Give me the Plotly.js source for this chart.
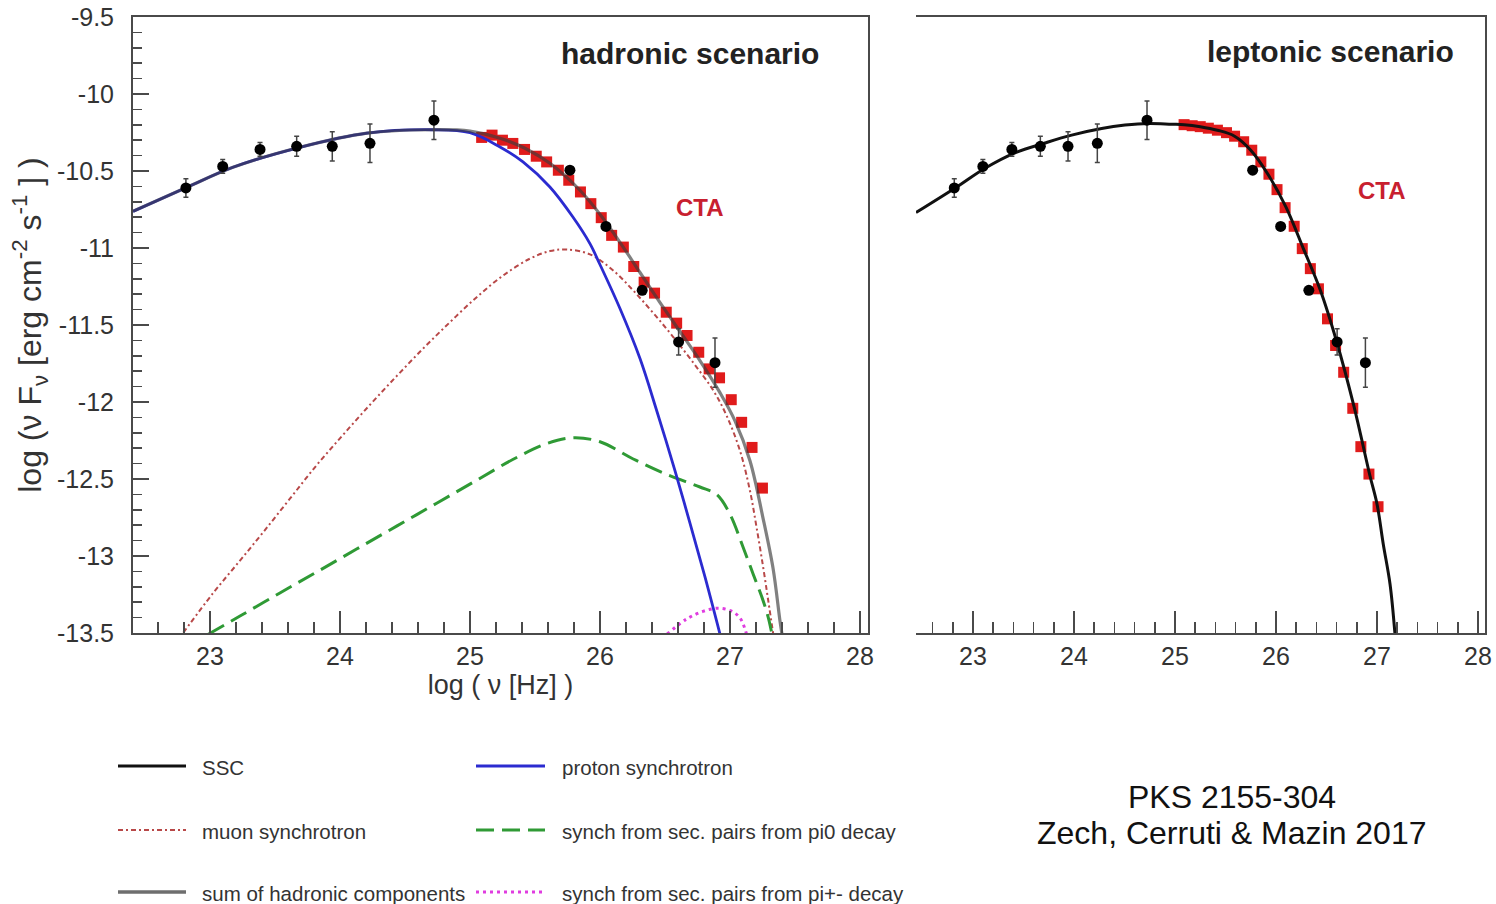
<!DOCTYPE html>
<html>
<head>
<meta charset="utf-8">
<script src="https://cdn.plot.ly/plotly-3.0.1.min.js"></script>
<style>html,body{margin:0;padding:0;background:#fff;}#chart{width:1496px;height:904px;}</style>
</head>
<body>
<div id="chart"></div>
<script>
// ---------------- data ----------------
// observed SED points (log nu [Hz], log nuFnu, error)
const obsLogNu   = [22.815, 23.098, 23.385, 23.667, 23.941, 24.231, 24.723, 25.769, 26.046, 26.325, 26.605, 26.885];
const obsLogFlux = [-10.610, -10.470, -10.360, -10.340, -10.340, -10.320, -10.170, -10.495, -10.860, -11.275, -11.610, -11.745];
const obsErr     = [0.060, 0.045, 0.045, 0.065, 0.095, 0.125, 0.125, 0.020, 0.020, 0.020, 0.085, 0.160];

// simulated CTA points
const ctaLogNu = [25.09, 25.17, 25.25, 25.33, 25.42, 25.51, 25.59, 25.68, 25.76, 25.85, 25.93, 26.01, 26.09, 26.18,
                  26.26, 26.34, 26.42, 26.51, 26.59, 26.67, 26.76, 26.84, 26.92, 27.01, 27.09, 27.17, 27.25];
const ctaHadronic = [-10.282, -10.267, -10.300, -10.321, -10.360, -10.404, -10.441, -10.495, -10.560, -10.636, -10.712,
                     -10.803, -10.918, -10.994, -11.120, -11.222, -11.293, -11.417, -11.488, -11.568, -11.677, -11.785,
                     -11.843, -11.985, -12.132, -12.295, -12.559];
const ctaLeptonic = [-10.199, -10.206, -10.212, -10.222, -10.235, -10.251, -10.274, -10.310, -10.365, -10.441, -10.521,
                     -10.621, -10.738, -10.859, -11.004, -11.134, -11.265, -11.460, -11.633, -11.807, -12.041, -12.290,
                     -12.468, -12.680];

// hadronic model components
const protonX = [22.408, 22.823, 23.177, 23.692, 24.208, 24.715, 25.000, 25.231, 25.408, 25.615, 25.792, 25.923, 26.000,
                 26.154, 26.308, 26.438, 26.577, 26.692, 26.808, 26.923];
const protonY = [-10.762, -10.606, -10.476, -10.346, -10.254, -10.232, -10.251, -10.344, -10.441, -10.604, -10.799, -10.972,
                 -11.107, -11.393, -11.718, -12.060, -12.446, -12.785, -13.136, -13.506];
const sumHadX = [22.408, 22.823, 23.177, 23.692, 24.208, 24.715, 25.000, 25.231, 25.423, 25.615, 25.846, 26.000, 26.154,
                 26.308, 26.462, 26.615, 26.769, 26.923, 27.038, 27.154, 27.254, 27.331, 27.385, 27.400];
const sumHadY = [-10.762, -10.606, -10.476, -10.346, -10.254, -10.232, -10.241, -10.287, -10.352, -10.450, -10.625, -10.781,
                 -10.963, -11.159, -11.354, -11.542, -11.731, -11.939, -12.121, -12.381, -12.752, -13.077, -13.422, -13.506];
const muonX = [22.795, 23.025, 23.231, 23.410, 23.615, 23.821, 24.025, 24.231, 24.436, 24.641, 24.846, 25.052, 25.256,
               25.462, 25.615, 25.744, 25.923, 26.102, 26.256, 26.410, 26.564, 26.718, 26.872, 26.975, 27.077, 27.154,
               27.205, 27.256, 27.295, 27.333];
const muonY = [-13.498, -13.240, -13.030, -12.845, -12.628, -12.410, -12.212, -12.018, -11.832, -11.652, -11.482, -11.319,
               -11.178, -11.069, -11.020, -11.010, -11.041, -11.146, -11.276, -11.422, -11.578, -11.745, -11.925, -12.090,
               -12.316, -12.576, -12.815, -13.075, -13.292, -13.506];
const pi0X = [22.987, 23.231, 23.538, 23.821, 24.128, 24.436, 24.744, 25.052, 25.333, 25.590, 25.795, 26.000, 26.256,
              26.513, 26.769, 26.898, 27.000, 27.102, 27.179, 27.256, 27.295, 27.323];
const pi0Y = [-13.508, -13.390, -13.240, -13.104, -12.955, -12.806, -12.657, -12.508, -12.372, -12.270, -12.232, -12.258,
              -12.370, -12.470, -12.552, -12.600, -12.728, -12.945, -13.118, -13.292, -13.400, -13.506];
const piPmX = [26.515, 26.667, 26.792, 26.908, 27.008, 27.077, 27.128];
const piPmY = [-13.508, -13.409, -13.360, -13.339, -13.357, -13.402, -13.508];

// leptonic (SSC) model
const sscX = [22.436, 22.839, 23.119, 23.416, 23.713, 23.977, 24.274, 24.505, 24.736, 24.967, 25.090, 25.250, 25.420,
              25.590, 25.750, 25.920, 26.100, 26.270, 26.440, 26.600, 26.770, 26.930, 27.000, 27.062, 27.129, 27.178];
const sscY = [-10.770, -10.604, -10.482, -10.382, -10.318, -10.267, -10.224, -10.202, -10.191, -10.196, -10.199, -10.212,
              -10.235, -10.274, -10.365, -10.521, -10.736, -11.002, -11.276, -11.607, -12.024, -12.479, -12.663, -12.923,
              -13.183, -13.508];

// tick labels
const yTickVals = [-9.5, -10, -10.5, -11, -11.5, -12, -12.5, -13, -13.5];
const yTickText = ['-9.5', '-10', '-10.5', '-11', '-11.5', '-12', '-12.5', '-13', '-13.5'];
const xTickVals = [23, 24, 25, 26, 27, 28];
const xTickText = ['23', '24', '25', '26', '27', '28'];

// legend entries
const legendLabels = ['SSC', 'proton synchrotron', 'muon synchrotron', 'synch from sec. pairs from pi0 decay',
                      'sum of hadronic components', 'synch from sec. pairs from pi+- decay'];

// ---------------- styles ----------------
const FONT = 'Liberation Sans, Arial, Helvetica, sans-serif';
const W = 1496, H = 904;
const fx = p => p / W;
const fy = p => 1 - p / H;
const AX = '#4a4a4a';
const C = {
  ssc: '#111111', proton: '#2b2bd0', muon: '#b84848', pi0: '#2f9a35', sum: '#3c3c3c', pipm: '#e03ce0',
  cta: '#e01b1b', obs: '#000000'
};
const STY = {
  ssc:    {color: C.ssc, width: 3, dash: 'solid', opacity: 1},
  proton: {color: C.proton, width: 2.8, dash: 'solid', opacity: 1},
  muon:   {color: C.muon, width: 2, dash: '5px,3px,2px,3px', opacity: 1},
  pi0:    {color: C.pi0, width: 3, dash: '18px,8px', opacity: 1},
  sum:    {color: C.sum, width: 3.2, dash: 'solid', opacity: 0.65},
  pipm:   {color: C.pipm, width: 3, dash: '3px,4px', opacity: 1}
};

function curve(x, y, sty, xa, ya) {
  return {x: x, y: y, type: 'scatter', mode: 'lines', xaxis: xa, yaxis: ya, hoverinfo: 'skip',
          opacity: sty.opacity,
          line: {color: sty.color, width: sty.width, dash: sty.dash, shape: 'spline', smoothing: 1},
          showlegend: false};
}
function ctaTrace(x, y, xa, ya) {
  return {x: x, y: y, type: 'scatter', mode: 'markers', xaxis: xa, yaxis: ya, showlegend: false,
          marker: {symbol: 'square', size: 11, color: C.cta}};
}
function obsTrace(xa, ya) {
  return {x: obsLogNu, y: obsLogFlux, type: 'scatter', mode: 'markers', xaxis: xa, yaxis: ya, showlegend: false,
          marker: {symbol: 'circle', size: 11, color: C.obs},
          error_y: {type: 'data', array: obsErr, visible: true, color: '#444', thickness: 1.5, width: 2.5}};
}

const data = [
  ctaTrace(ctaLogNu, ctaHadronic, 'x', 'y'),
  curve(muonX, muonY, STY.muon, 'x', 'y'),
  curve(pi0X, pi0Y, STY.pi0, 'x', 'y'),
  curve(piPmX, piPmY, STY.pipm, 'x', 'y'),
  curve(protonX, protonY, STY.proton, 'x', 'y'),
  curve(sumHadX, sumHadY, STY.sum, 'x', 'y'),
  obsTrace('x', 'y'),
  ctaTrace(ctaLogNu.slice(0, ctaLeptonic.length), ctaLeptonic, 'x2', 'y2'),
  curve(sscX, sscY, STY.ssc, 'x2', 'y2'),
  obsTrace('x2', 'y2')
];

const yDom = [fy(633), fy(17)];
const xTickCommon = {
  tickmode: 'array', tickvals: xTickVals, ticktext: xTickText,
  ticks: 'inside', ticklen: 22, tickwidth: 2, tickcolor: AX,
  minor: {tickmode: 'linear', tick0: 23, dtick: 0.2, ticks: 'inside', ticklen: 11, tickwidth: 1.5, tickcolor: AX},
  showline: true, linecolor: AX, linewidth: 2, mirror: true,
  showgrid: false, zeroline: false, fixedrange: true,
  tickfont: {family: FONT, size: 25, color: '#333'}, ticklabelstandoff: 0
};

const layout = {
  width: W, height: H, autosize: false,
  margin: {l: 0, r: 0, t: 0, b: 0, pad: 0},
  paper_bgcolor: '#fff', plot_bgcolor: '#fff',
  font: {family: FONT, color: '#333'},
  showlegend: false,
  xaxis: Object.assign({}, xTickCommon, {
    domain: [fx(133), fx(868)], range: [22.408, 28.062], anchor: 'y',
    title: {text: 'log ( ν [Hz] )', font: {family: FONT, size: 27, color: '#333'}, standoff: 4}
  }),
  yaxis: {
    domain: yDom, range: [-13.5, -9.5], anchor: 'x',
    tickmode: 'array', tickvals: yTickVals, ticktext: yTickText,
    ticks: 'inside', ticklen: 16, tickwidth: 2, tickcolor: AX,
    minor: {tickmode: 'linear', tick0: -13.5, dtick: 0.1, ticks: 'inside', ticklen: 9, tickwidth: 1.5, tickcolor: AX},
    showline: true, linecolor: AX, linewidth: 2, mirror: true,
    showgrid: false, zeroline: false, fixedrange: true,
    tickfont: {family: FONT, size: 25, color: '#333'}, ticklabelstandoff: 12,
    title: {text: 'log (ν F<sub>ν</sub> [erg cm<sup>-2</sup> s<sup>-1</sup> ] )',
            font: {family: FONT, size: 32, color: '#333'}, standoff: 6}
  },
  xaxis2: Object.assign({}, xTickCommon, {
    domain: [fx(916), fx(1485)], range: [22.436, 28.069], anchor: 'y2'
  }),
  yaxis2: {
    domain: yDom, range: [-13.5, -9.5], anchor: 'x2', side: 'right',
    showline: true, linecolor: AX, linewidth: 2, mirror: false,
    ticks: '', showticklabels: false, showgrid: false, zeroline: false, fixedrange: true
  },
  annotations: [],
  shapes: []
};

const ann = layout.annotations;
ann.push({xref: 'paper', yref: 'paper', x: fx(690), y: fy(53), text: '<b>hadronic scenario</b>', showarrow: false,
          xanchor: 'center', yanchor: 'middle', font: {family: FONT, size: 30, color: '#222'}});
ann.push({xref: 'paper', yref: 'paper', x: fx(1330), y: fy(52), text: '<b>leptonic scenario</b>', showarrow: false,
          xanchor: 'center', yanchor: 'middle', font: {family: FONT, size: 30, color: '#222'}});
ann.push({xref: 'paper', yref: 'paper', x: fx(700), y: fy(207), text: '<b>CTA</b>', showarrow: false,
          xanchor: 'center', yanchor: 'middle', font: {family: FONT, size: 24, color: '#c8202f'}});
ann.push({xref: 'paper', yref: 'paper', x: fx(1382), y: fy(191), text: '<b>CTA</b>', showarrow: false,
          xanchor: 'center', yanchor: 'middle', font: {family: FONT, size: 24, color: '#c8202f'}});
ann.push({xref: 'paper', yref: 'paper', x: fx(1232), y: fy(797), text: 'PKS 2155-304', showarrow: false,
          xanchor: 'center', yanchor: 'middle', font: {family: FONT, size: 32, color: '#111'}});
ann.push({xref: 'paper', yref: 'paper', x: fx(1232), y: fy(833), text: 'Zech, Cerruti &amp; Mazin 2017', showarrow: false,
          xanchor: 'center', yanchor: 'middle', font: {family: FONT, size: 32, color: '#111'}});

// legend (drawn manually in the original two-column arrangement)
const legendStyles = [STY.ssc, STY.proton, STY.muon, STY.pi0, {color: '#6e6e6e', width: 3.5, dash: 'solid'}, STY.pipm];
const rowsY = [766, 830, 892];
const colLine = [[118, 186], [476, 545]];
const colText = [200, 560];
legendLabels.forEach((lab, i) => {
  const row = Math.floor(i / 2), col = i % 2;
  const s = legendStyles[i];
  layout.shapes.push({type: 'line', xref: 'paper', yref: 'paper',
    x0: fx(colLine[col][0]), x1: fx(colLine[col][1]), y0: fy(rowsY[row]), y1: fy(rowsY[row]),
    line: {color: s.color, width: s.width, dash: s.dash}});
  ann.push({xref: 'paper', yref: 'paper', x: fx(colText[col]), y: fy(rowsY[row] + 1), text: lab, showarrow: false,
    xanchor: 'left', yanchor: 'middle', font: {family: FONT, size: 20.5, color: '#333'}});
});

Plotly.newPlot('chart', data, layout, {staticPlot: true, displayModeBar: false});
</script>
</body>
</html>
